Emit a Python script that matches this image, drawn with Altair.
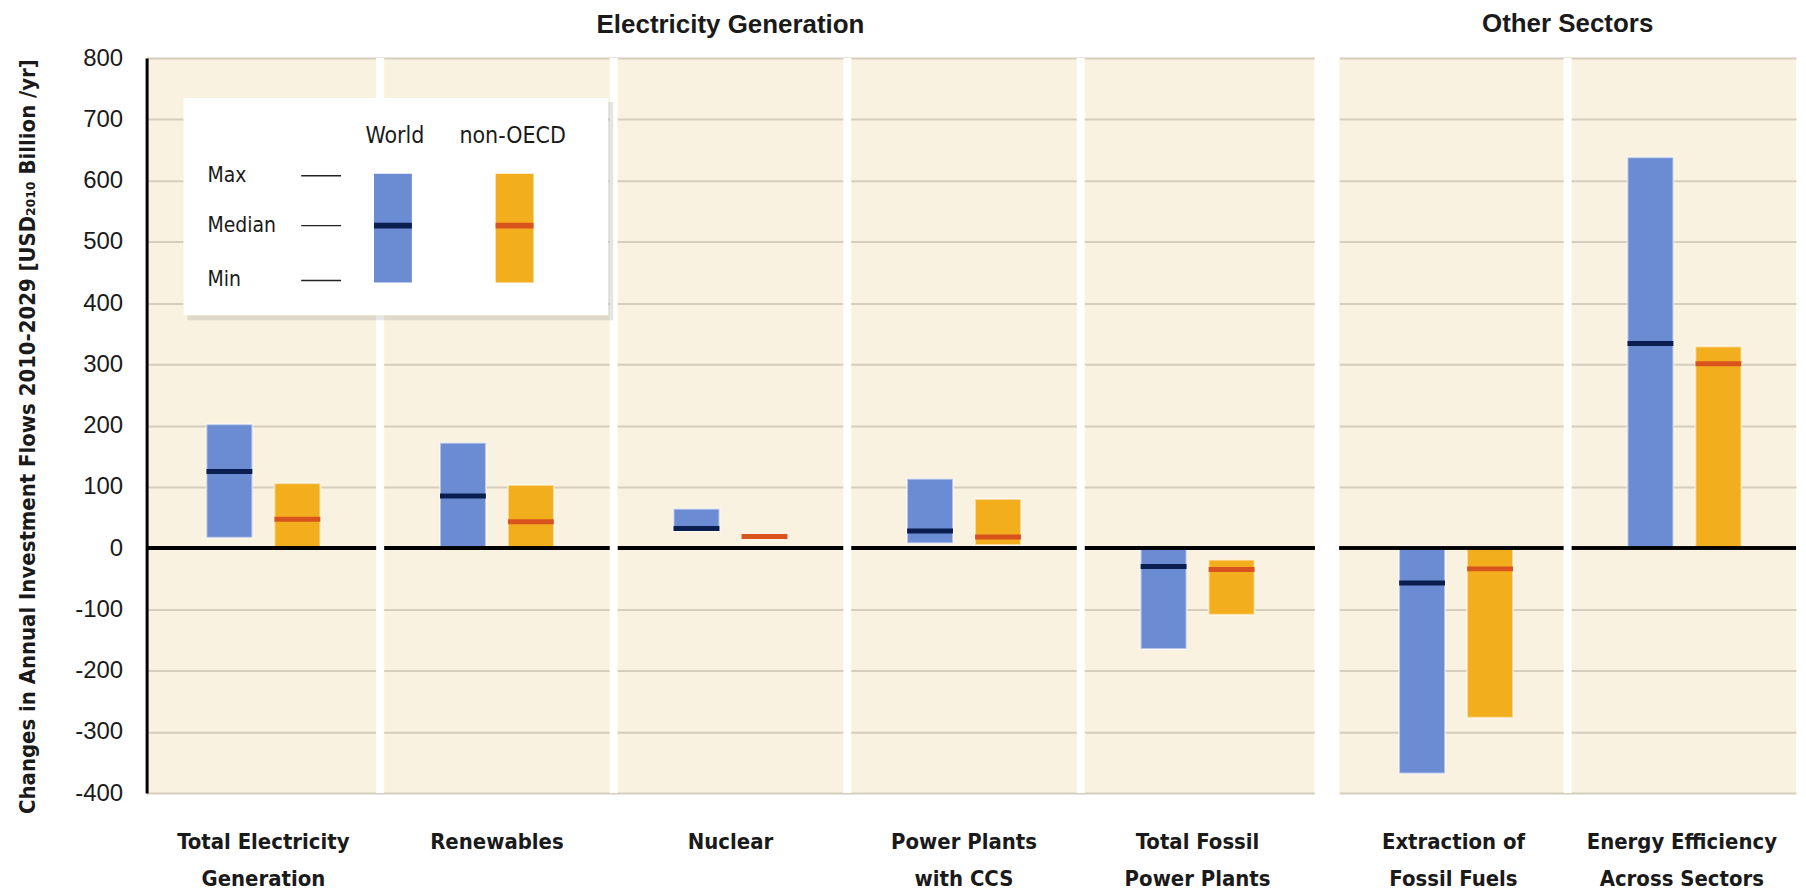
import altair as alt
import pandas as pd

# ---------------- data ----------------
CATEGORIES = ["Total Electricity\nGeneration", "Renewables", "Nuclear",
              "Power Plants\nwith CCS", "Total Fossil\nPower Plants",
              "Extraction of\nFossil Fuels", "Energy Efficiency\nAcross Sectors"]
SECTOR = ["Electricity Generation"] * 5 + ["Other Sectors"] * 2
SERIES = ["World", "non-OECD"]

WORLD_MIN = [17, 0, 28, 8, -165, -368, 0]
WORLD_MEDIAN = [125, 85, 32, 28, -30, -57, 334]
WORLD_MAX = [202, 172, 64, 113, 0, 3, 638]
NONOECD_MIN = [0, 0, 19, 5, -109, -277, 0]
NONOECD_MEDIAN = [47, 43, 19, 18, -35, -34, 301]
NONOECD_MAX = [106, 103, 19, 80, -19, 0, 329]

Y_TICKS = [-400, -300, -200, -100, 0, 100, 200, 300, 400, 500, 600, 700, 800]
Y_TITLE = "Changes in Annual Investment Flows 2010-2029 [USD\u2082\u2080\u2081\u2080 Billion /yr]"

# ---------------- styles ----------------
BLUE, ORANGE = "#6B8BD2", "#F2AE1C"
NAVY, RED = "#0B1E50", "#D9531E"
CREAM, GRID, TXT = "#FAF2E1", "#D6CEBC", "#1a1a1a"
SANS = "Liberation Sans"
NARROW = "DejaVu Sans Condensed"
H = 737

rows = []
for i, c in enumerate(CATEGORIES):
    rows.append(dict(cat=c, sector=SECTOR[i], series="World",
                     lo=WORLD_MIN[i], med=WORLD_MEDIAN[i], hi=WORLD_MAX[i]))
    rows.append(dict(cat=c, sector=SECTOR[i], series="non-OECD",
                     lo=NONOECD_MIN[i], med=NONOECD_MEDIAN[i], hi=NONOECD_MAX[i]))
df = pd.DataFrame(rows)


def one():
    return alt.Chart(pd.DataFrame({"k": [0]}))


def legend_layers():
    L = []
    L.append(one().mark_rect(fill="#000000", opacity=0.10).encode(
        x=alt.value(41), x2=alt.value(468), y=alt.value(44), y2=alt.value(263)))
    L.append(one().mark_rect(fill="white").encode(
        x=alt.value(37), x2=alt.value(463), y=alt.value(40), y2=alt.value(258)))
    for txt, xx in [("World", 249), ("non-OECD", 367)]:
        L.append(one().mark_text(font=NARROW, fontSize=23, color=TXT, align="center",
                                 baseline="middle").encode(
            x=alt.value(xx), y=alt.value(78), text=alt.value(txt)))
    for txt, yy in [("Max", 118), ("Median", 168), ("Min", 223)]:
        L.append(one().mark_text(font=NARROW, fontSize=21, color=TXT, align="left",
                                 baseline="middle").encode(
            x=alt.value(61), y=alt.value(yy), text=alt.value(txt)))
        L.append(one().mark_rule(color="#222222", strokeWidth=1.5).encode(
            x=alt.value(155), x2=alt.value(195), y=alt.value(yy)))
    for x0, fill, med in [(228, BLUE, NAVY), (350, ORANGE, RED)]:
        L.append(one().mark_rect(fill=fill).encode(
            x=alt.value(x0), x2=alt.value(x0 + 38), y=alt.value(116), y2=alt.value(225)))
        L.append(one().mark_rect(fill=med).encode(
            x=alt.value(x0), x2=alt.value(x0 + 38), y=alt.value(165), y2=alt.value(171)))
    return L


def panel(sector, width, left_axis, title_offset):
    sub = df[df.sector == sector]
    cats = [c for c, s in zip(CATEGORIES, SECTOR) if s == sector]
    xs = alt.Scale(domain=cats, paddingInner=0, paddingOuter=0)
    ys = alt.Scale(domain=[-400, 800], nice=False, zero=False)
    xaxis = alt.Axis(labelExpr="split(datum.label, '\\n')", labelFont=NARROW,
                     labelFontSize=22, labelFontWeight="bold", labelColor=TXT,
                     labelLineHeight=37, labelPadding=39, labelAngle=0, labelLimit=400,
                     domain=False, ticks=False, title=None)
    if left_axis:
        yaxis = alt.Axis(values=Y_TICKS, grid=True, gridColor=GRID, gridWidth=2,
                         domain=True, domainColor="black", domainWidth=3, ticks=False,
                         labelExpr="datum.value + ''",
                         labelPadding=24, labelFont=SANS, labelFontSize=24, labelColor=TXT,
                         title=Y_TITLE, titleFont=NARROW, titleFontSize=22,
                         titleFontWeight="bold", titleColor=TXT, titleAngle=270,
                         titleX=-119, titleY=379, titleAlign="center",
                         titleBaseline="middle")
    else:
        yaxis = alt.Axis(values=Y_TICKS, grid=True, gridColor=GRID, gridWidth=2,
                         domain=False, ticks=False, labels=False, title=None)

    def X(**kw):
        return alt.X("cat:N", scale=xs, sort=cats, axis=xaxis, title=None, **kw)

    XO = alt.XOffset("series:N", sort=SERIES,
                     scale=alt.Scale(domain=SERIES, paddingInner=0.324, paddingOuter=0.88))

    bars = alt.Chart(sub).mark_bar(stroke="white", strokeOpacity=0.5, strokeWidth=2).encode(
        x=X(), xOffset=XO,
        y=alt.Y("lo:Q", scale=ys, axis=yaxis),
        y2="hi:Q",
        color=alt.Color("series:N", scale=alt.Scale(domain=SERIES, range=[BLUE, ORANGE]),
                        legend=None))
    meds = alt.Chart(sub).mark_tick(thickness=5, size=46, opacity=1).encode(
        x=X(), xOffset=XO,
        y=alt.Y("med:Q", scale=ys, axis=yaxis),
        color=alt.Color("series:N", scale=alt.Scale(domain=SERIES, range=[NAVY, RED]),
                        legend=None))
    zero = alt.Chart(sub).mark_rule(color="black", strokeWidth=3).encode(
        y=alt.Y(datum=0, scale=ys, axis=yaxis))
    gaps = alt.Chart(pd.DataFrame({"cat": cats[1:]})).mark_rule(
        color="white", strokeWidth=8).encode(
        x=X(bandPosition=0), y=alt.value(0), y2=alt.value(H))

    layers = [bars, meds, zero, gaps]
    if left_axis:
        layers += legend_layers()
    return alt.layer(*layers).resolve_scale(color="independent").properties(
        width=width, height=H,
        title=alt.TitleParams(sector, font=SANS, fontSize=26, fontWeight="bold",
                              color=TXT, anchor="middle", offset=title_offset))


left = panel("Electricity Generation", 1171, True, 8)
right = panel("Other Sectors", 458, False, 17)

chart = alt.hconcat(left, right, spacing=21).properties(
    padding={"left": 8, "top": 2, "right": 0, "bottom": 0}
).configure_view(fill=CREAM, stroke=None)

chart.save("out.html", embed_options={"renderer": "svg", "actions": False})
